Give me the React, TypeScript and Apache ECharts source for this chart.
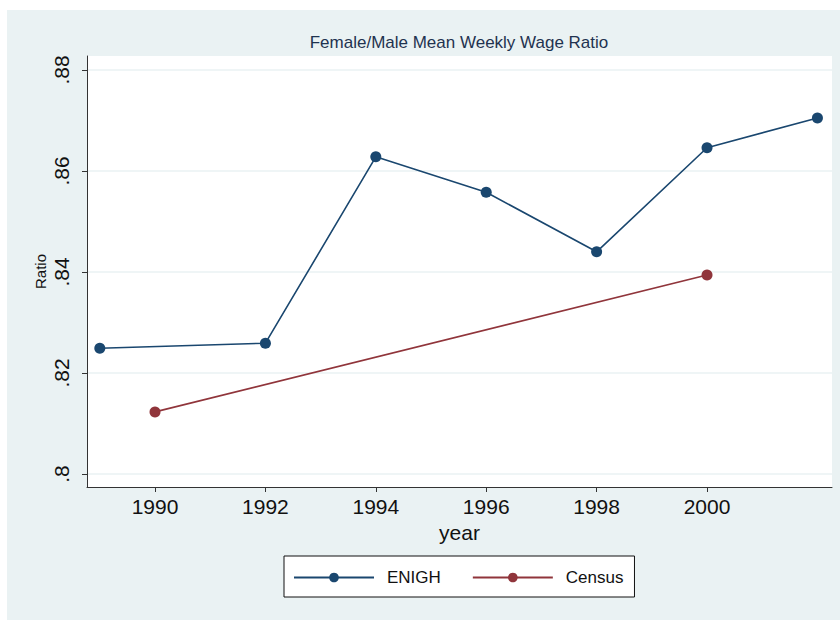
import React, { useEffect, useRef } from "react";
import * as echarts from "echarts";

const enighYears = [1989, 1992, 1994, 1996, 1998, 2000, 2002];
const enighValues = [0.8249, 0.8259, 0.8628, 0.8558, 0.844, 0.8646, 0.8705];
const censusYears = [1990, 2000];
const censusValues = [0.8123, 0.8394];
const xTicks = [1990, 1992, 1994, 1996, 1998, 2000];
const yTicks = [0.8, 0.82, 0.84, 0.86, 0.88];

const FONT = "'Liberation Sans', Arial, Helvetica, sans-serif";

export default function App() {
  const ref = useRef<HTMLDivElement>(null);
  useEffect(() => {
    if (!ref.current) return;
    const chart = echarts.init(ref.current, undefined, { renderer: "svg" });
    const fmtY = (v: number) => {
      let s = (Math.round(v * 100) / 100).toString();
      if (s.startsWith("0")) s = s.slice(1);
      return s;
    };
    chart.setOption({
      animation: false,
      backgroundColor: "#ffffff",
      textStyle: { fontFamily: FONT },
      graphic: [
        {
          type: "rect",
          z: -10,
          silent: true,
          shape: { x: 7, y: 10, width: 840, height: 620 },
          style: { fill: "#eaf2f3" },
        },
      ],
      title: {
        text: "Female/Male Mean Weekly Wage Ratio",
        left: 459,
        textAlign: "center",
        top: 34,
        padding: 0,
        textStyle: {
          fontFamily: FONT,
          fontSize: 17,
          fontWeight: "normal",
          color: "#1f3350",
        },
      },
      grid: {
        left: 87,
        top: 56,
        right: 8,
        bottom: 133,
        show: true,
        backgroundColor: "#ffffff",
        borderWidth: 0,
      },
      xAxis: {
        type: "value",
        min: 1988.768,
        max: 2002.264,
        name: "year",
        nameLocation: "middle",
        nameGap: 34,
        nameTextStyle: { fontFamily: FONT, fontSize: 21, color: "#111" },
        axisLine: { show: true, onZero: false, lineStyle: { color: "#333", width: 1 } },
        axisTick: { show: true, length: 5, customValues: xTicks, lineStyle: { color: "#333" } },
        axisLabel: {
          customValues: xTicks,
          fontFamily: FONT,
          fontSize: 21,
          color: "#111",
          margin: 9,
          formatter: (v: number) => String(Math.round(v)),
        },
        splitLine: { show: false },
      },
      yAxis: {
        type: "value",
        min: 0.79743,
        max: 0.88277,
        name: "Ratio",
        nameLocation: "middle",
        nameRotate: 90,
        nameGap: 39,
        nameMoveOverlap: false,
        nameTextStyle: { fontFamily: FONT, fontSize: 15, color: "#111" },
        axisLine: { show: true, onZero: false, lineStyle: { color: "#333", width: 1 } },
        axisTick: { show: true, length: 5, customValues: yTicks, lineStyle: { color: "#333" } },
        axisLabel: {
          customValues: yTicks,
          rotate: 90,
          fontFamily: FONT,
          fontSize: 21,
          color: "#111",
          margin: 15,
          formatter: fmtY,
        },
        splitLine: { show: true, lineStyle: { color: "#eaf2f3", width: 1.5 } },
      },
      legend: {
        left: 284,
        top: 556,
        padding: [13, 11, 11, 9],
        itemGap: 31,
        itemWidth: 80,
        itemHeight: 12,
        backgroundColor: "#ffffff",
        borderColor: "#111",
        borderWidth: 1,
        borderRadius: 0,
        textStyle: { fontFamily: FONT, fontSize: 17, color: "#111", padding: [0, 0, 0, 8] },
        data: ["ENIGH", "Census"],
      },
      series: [
        {
          name: "ENIGH",
          type: "line",
          data: enighYears.map((y, i) => [y, enighValues[i]]),
          symbol: "circle",
          symbolSize: 11,
          color: "#1a476f",
          lineStyle: { color: "#1a476f", width: 1.6 },
          itemStyle: { color: "#1a476f" },
        },
        {
          name: "Census",
          type: "line",
          data: censusYears.map((y, i) => [y, censusValues[i]]),
          symbol: "circle",
          symbolSize: 11,
          color: "#90353b",
          lineStyle: { color: "#90353b", width: 1.6 },
          itemStyle: { color: "#90353b" },
        },
      ],
    });
    return () => chart.dispose();
  }, []);
  return (
    <div
      ref={ref}
      style={{ position: "fixed", left: 0, top: 0, width: 840, height: 620 }}
    />
  );
}
